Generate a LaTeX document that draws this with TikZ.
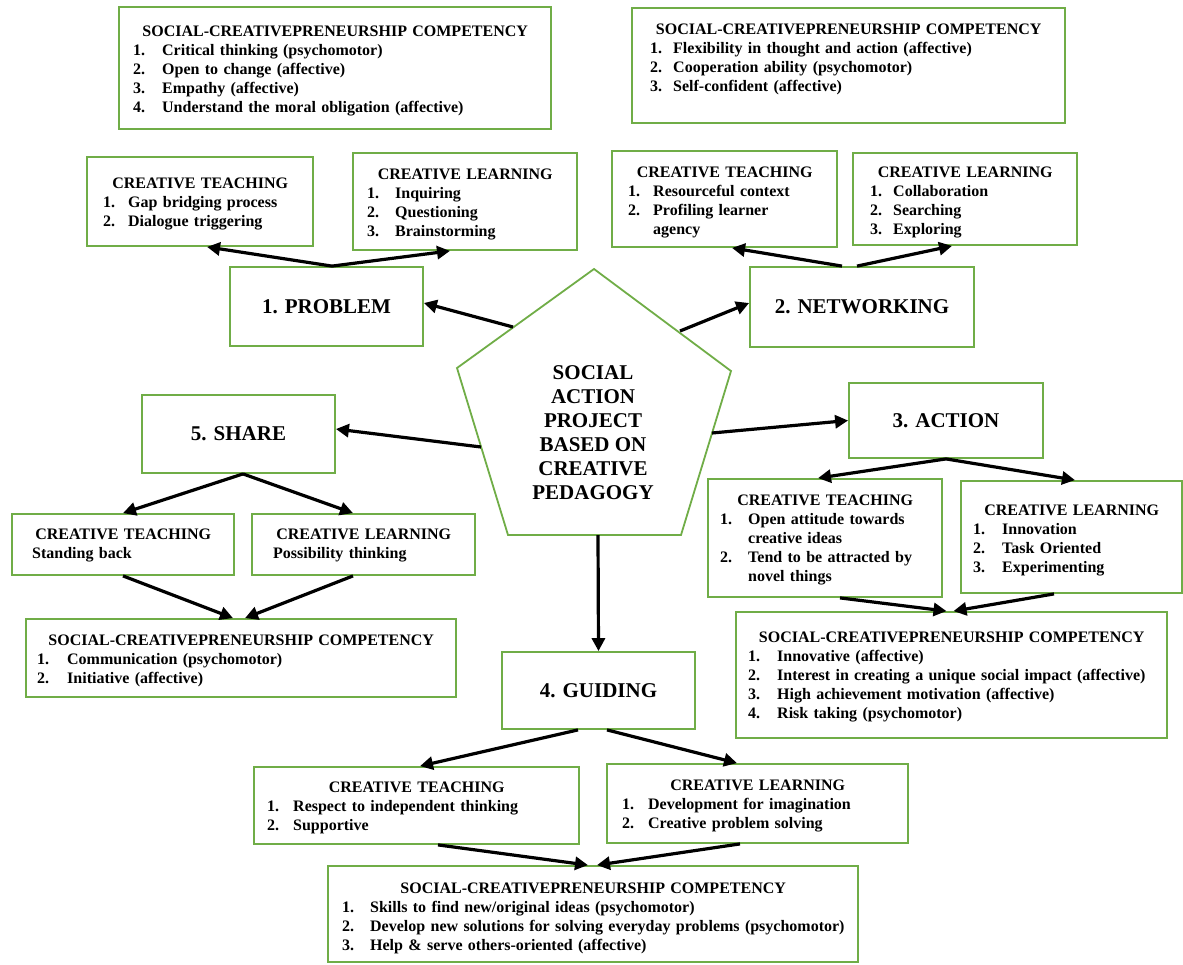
\documentclass[tikz,border=0pt]{standalone}
\usepackage{fontspec}
\setmainfont{Liberation Serif}
\usetikzlibrary{arrows.meta}
\definecolor{gbord}{RGB}{112,173,71}
\newlength\itmdx
\newlength\itmw
\newcommand\itm[2]{\par\noindent\hspace*{\itmdx}\makebox[\itmw][l]{#1}\mbox{#2}}
\newcommand\ttl[1]{{\centering\noindent\rule{0pt}{12pt}#1\par}}
\newcommand\boxat[7][]{\node[box,#1,minimum width={(#5-#3)*1pt},minimum height={(#6-#4)*1pt}] (#2) at ({(#3+#5)/2},{(#4+#6)/2}) {#7};}
\newcommand\boxtxt[7]{\node[txt,text width=#4pt] (#1) at (#2,#3) {\setlength\itmdx{#5pt}\setlength\itmw{#6pt}#7};}
\tikzset{
  box/.style={draw=gbord, line width=1.8pt, fill=white, inner sep=0pt, rectangle},
  stepbox/.style={box, font=\fontsize{21}{24}\selectfont\bfseries},
  txt/.style={anchor=north west, inner sep=0pt, font=\fontsize{16}{19}\selectfont\bfseries},
  arr/.style={line width=3.2pt, -{Triangle[length=13pt,width=13pt]}},
}
\begin{document}
\begin{tikzpicture}[x=1pt,y=-1pt]
\useasboundingbox (0,0) rectangle (1183,964);
% ---------- boxes ----------
\boxat{sc1}{119}{7}{551}{129}{}
\boxat{sc2}{632}{8}{1065}{123}{}
\boxat{ct1}{87}{157}{313}{246}{}
\boxat{cl1}{353}{153}{577}{250}{}
\boxat{ct2}{612}{151}{837}{247}{}
\boxat{cl2}{853}{153}{1077}{245}{}
\boxat[stepbox]{prob}{230}{267}{423}{346}{1. PROBLEM}
\boxat[stepbox]{net}{750}{267}{974}{347}{2. NETWORKING}
\boxat[stepbox]{share}{142}{395}{335}{473}{5. SHARE}
\boxat[stepbox]{action}{849}{383}{1043}{458}{3. ACTION}
\boxat{ct5}{12}{514}{234}{575}{}
\boxat{cl5}{252}{514}{475}{575}{}
\boxat{sc5}{26}{619}{456}{697}{}
\boxat{ct3}{708}{479}{942}{597}{}
\boxat{cl3}{961}{481}{1182}{593}{}
\boxat{sc3}{736}{612}{1167}{738}{}
\boxat[stepbox]{guid}{502}{652}{695}{729}{4. GUIDING}
\boxat{ct4}{254}{767}{579}{844}{}
\boxat{cl4}{607}{764}{908}{843}{}
\boxat{sc4}{328}{866}{858}{962}{}
% ---------- pentagon ----------
\coordinate (pA) at (594,269);
\coordinate (pB) at (731,371);
\coordinate (pC) at (681,535);
\coordinate (pD) at (508,535);
\coordinate (pE) at (457,368);
\draw[draw=gbord, line width=1.8pt, fill=white] (pA) -- (pB) -- (pC) -- (pD) -- (pE) -- cycle;
\node[align=center, inner sep=0pt, font=\fontsize{21}{24}\selectfont\bfseries] (pent) at (593,433)
  {SOCIAL\\ACTION\\PROJECT\\BASED ON\\CREATIVE\\PEDAGOGY};
\coordinate (pProb) at (513,327);
\coordinate (pNet) at (680,331);
\coordinate (pShare) at (481,447);
\coordinate (pAct) at (712,433);
\coordinate (pGuid) at (598,535);
% ---------- texts ----------
\boxtxt{sc1t}{119}{24.5}{432}{14}{29}{\ttl{SOCIAL-CREATIVEPRENEURSHIP COMPETENCY}
  \itm{1.}{Critical thinking (psychomotor)}
  \itm{2.}{Open to change (affective)}
  \itm{3.}{Empathy (affective)}
  \itm{4.}{Understand the moral obligation (affective)}}
\boxtxt{sc2t}{632}{22.5}{433}{18}{23}{\ttl{SOCIAL-CREATIVEPRENEURSHIP COMPETENCY}
  \itm{1.}{Flexibility in thought and action (affective)}
  \itm{2.}{Cooperation ability (psychomotor)}
  \itm{3.}{Self-confident (affective)}}
\boxtxt{ct1t}{87}{176.5}{226}{16}{25}{\ttl{CREATIVE TEACHING}
  \itm{1.}{Gap bridging process}
  \itm{2.}{Dialogue triggering}}
\boxtxt{cl1t}{353}{167.5}{224}{14}{28}{\ttl{CREATIVE LEARNING}
  \itm{1.}{Inquiring}
  \itm{2.}{Questioning}
  \itm{3.}{Brainstorming}}
\boxtxt{ct2t}{612}{165.5}{225}{16}{25}{\ttl{CREATIVE TEACHING}
  \itm{1.}{Resourceful context}
  \itm{2.}{Profiling learner}
  \itm{}{agency}}
\boxtxt{cl2t}{853}{165.5}{224}{17}{23}{\ttl{CREATIVE LEARNING}
  \itm{1.}{Collaboration}
  \itm{2.}{Searching}
  \itm{3.}{Exploring}}
\boxtxt{ct5t}{12}{527.5}{222}{20}{0}{\ttl{CREATIVE TEACHING}
  \itm{}{Standing back}}
\boxtxt{cl5t}{252}{527.5}{223}{21}{0}{\ttl{CREATIVE LEARNING}
  \itm{}{Possibility thinking}}
\boxtxt{sc5t}{26}{633.5}{430}{11}{30}{\ttl{SOCIAL-CREATIVEPRENEURSHIP COMPETENCY}
  \itm{1.}{Communication (psychomotor)}
  \itm{2.}{Initiative (affective)}}
\boxtxt{ct3t}{708}{493.5}{234}{12}{28}{\ttl{CREATIVE TEACHING}
  \itm{1.}{Open attitude towards}
  \itm{}{creative ideas}
  \itm{2.}{Tend to be attracted by}
  \itm{}{novel things}}
\boxtxt{cl3t}{961}{503.5}{221}{12}{29}{\ttl{CREATIVE LEARNING}
  \itm{1.}{Innovation}
  \itm{2.}{Task Oriented}
  \itm{3.}{Experimenting}}
\boxtxt{sc3t}{736}{630.5}{431}{12}{29}{\ttl{SOCIAL-CREATIVEPRENEURSHIP COMPETENCY}
  \itm{1.}{Innovative (affective)}
  \itm{2.}{Interest in creating a unique social impact (affective)}
  \itm{3.}{High achievement motivation (affective)}
  \itm{4.}{Risk taking (psychomotor)}}
\boxtxt{ct4t}{254}{780.5}{325}{13}{26}{\ttl{CREATIVE TEACHING}
  \itm{1.}{Respect to independent thinking}
  \itm{2.}{Supportive}}
\boxtxt{cl4t}{607}{778.5}{301}{15}{26}{\ttl{CREATIVE LEARNING}
  \itm{1.}{Development for imagination}
  \itm{2.}{Creative problem solving}}
\boxtxt{sc4t}{328}{881.5}{530}{14}{28}{\ttl{SOCIAL-CREATIVEPRENEURSHIP COMPETENCY}
  \itm{1.}{Skills to find new/original ideas (psychomotor)}
  \itm{2.}{Develop new solutions for solving everyday problems (psychomotor)}
  \itm{3.}{Help \& serve others-oriented (affective)}}
% ---------- connectors ----------
\draw[arr] (pProb) -- ([yshift=3.5pt]prob.east);
\draw[arr] (pNet) -- ([yshift=4pt]net.west);
\draw[arr] (pShare) -- ([yshift=5pt]share.east);
\draw[arr] (pAct) -- (action.west);
\draw[arr] (pGuid) -- (guid.north);
\draw[arr] ([xshift=5.5pt]prob.north) -- ([xshift=7pt]ct1.south);
\draw[arr] ([xshift=5.5pt]prob.north) -- ([xshift=-15pt]cl1.south);
\draw[arr] ([xshift=-20pt]net.north) -- ([xshift=7.5pt]ct2.south);
\draw[arr] ([xshift=-5pt]net.north) -- ([xshift=-13pt]cl2.south);
\draw[arr] ([xshift=4.5pt]share.south) -- (ct5.north);
\draw[arr] ([xshift=4.5pt]share.south) -- ([xshift=-10.5pt]cl5.north);
\draw[arr] (ct5.south) -- ([xshift=-8pt]sc5.north);
\draw[arr] ([xshift=-10.5pt]cl5.south) -- ([xshift=4pt]sc5.north);
\draw[arr] (action.south) -- ([xshift=-7pt]ct3.north);
\draw[arr] (action.south) -- ([xshift=3.5pt]cl3.north);
\draw[arr] ([xshift=15pt]ct3.south) -- ([xshift=-5pt]sc3.north);
\draw[arr] ([xshift=-17.5pt]cl3.south) -- ([xshift=2pt]sc3.north);
\draw[arr] ([xshift=-20.5pt]guid.south) -- ([xshift=3.5pt]ct4.north);
\draw[arr] ([xshift=8.5pt]guid.south) -- ([xshift=-20.5pt]cl4.north);
\draw[arr] ([xshift=21.5pt]ct4.south) -- ([xshift=-5pt]sc4.north);
\draw[arr] ([xshift=-17.5pt]cl4.south) -- ([xshift=4pt]sc4.north);
\end{tikzpicture}
\end{document}
